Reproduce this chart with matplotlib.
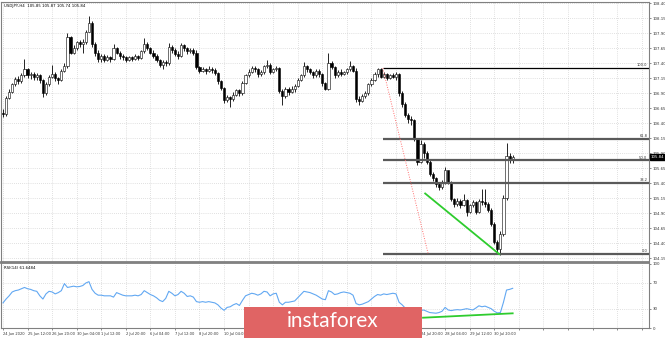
import matplotlib
matplotlib.use("Agg")
import matplotlib.pyplot as plt
import matplotlib.transforms as mtransforms
from matplotlib.patches import Rectangle

# USDJPY H4, 24 Jun 04:00 .. 31 Jul 20:00
first_open = 106.58
closes = [
    106.55, 106.82, 106.93, 107.05, 107.14, 107.10, 107.20, 107.30, 107.20, 107.22,
    107.17, 107.20, 107.12, 106.90, 107.06, 107.18, 107.22, 107.15, 107.12, 107.28,
    107.36, 107.84, 107.58, 107.66, 107.75, 107.73, 107.76, 107.93, 108.08, 107.72,
    107.58, 107.47, 107.52, 107.45, 107.50, 107.48, 107.66, 107.58, 107.52, 107.50,
    107.46, 107.50, 107.48, 107.52, 107.49, 107.60, 107.72, 107.65, 107.58, 107.52,
    107.46, 107.38, 107.42, 107.40, 107.67, 107.62, 107.56, 107.52, 107.70, 107.66,
    107.60, 107.62, 107.58, 107.34, 107.28, 107.30, 107.27, 107.31, 107.29, 107.24,
    107.10, 106.99, 106.79, 106.84, 106.80, 106.88, 106.95, 106.90, 107.07, 107.20,
    107.26, 107.32, 107.30, 107.22, 107.25, 107.35, 107.38, 107.26, 107.30, 107.32,
    106.94, 106.85, 106.97, 106.93, 106.98, 107.02, 107.12, 107.20, 107.36, 107.30,
    107.26, 107.20, 107.28, 107.22, 107.07, 106.98, 107.40, 107.34, 107.20, 107.26,
    107.22, 107.25, 107.30, 107.36, 107.28, 106.80, 106.78, 106.86, 106.90, 107.05,
    107.12, 107.22, 107.30, 107.18, 107.22, 107.16, 107.20, 107.18, 107.22, 106.90,
    106.72, 106.54, 106.48, 106.45, 106.14, 105.75, 106.05, 105.90, 105.76, 105.55,
    105.48, 105.38, 105.34, 105.42, 105.62, 105.42, 105.14, 105.06, 105.10, 105.04,
    105.12, 104.92, 105.03, 105.08, 104.92, 105.10, 105.08, 105.05, 104.95, 104.72,
    104.42, 104.30, 104.55, 105.15, 105.85, 105.80, 105.84,
]
highs = [
    106.64, 106.86, 106.97, 107.08, 107.18, 107.19, 107.24, 107.47, 107.33, 107.26,
    107.25, 107.24, 107.22, 107.14, 107.09, 107.21, 107.37, 107.25, 107.18, 107.30,
    107.40, 107.90, 107.86, 107.70, 107.78, 107.79, 107.80, 107.96, 108.19, 108.10,
    107.75, 107.62, 107.56, 107.55, 107.54, 107.53, 107.72, 107.68, 107.60, 107.55,
    107.52, 107.53, 107.52, 107.56, 107.54, 107.63, 107.82, 107.75, 107.68, 107.62,
    107.55, 107.48, 107.45, 107.46, 107.74, 107.70, 107.66, 107.60, 107.74, 107.73,
    107.68, 107.66, 107.66, 107.62, 107.36, 107.34, 107.33, 107.35, 107.34, 107.32,
    107.26, 107.12, 107.01, 106.88, 106.86, 106.92, 106.98, 106.97, 107.10, 107.23,
    107.30, 107.35, 107.36, 107.32, 107.29, 107.38, 107.46, 107.40, 107.33, 107.36,
    107.34, 106.98, 107.00, 107.00, 107.02, 107.05, 107.15, 107.23, 107.42, 107.38,
    107.33, 107.28, 107.31, 107.30, 107.24, 107.09, 107.57, 107.44, 107.36, 107.29,
    107.30, 107.28, 107.33, 107.44, 107.38, 107.32, 106.85, 106.89, 106.94, 107.08,
    107.15, 107.26, 107.32, 107.32, 107.25, 107.24, 107.23, 107.24, 107.25, 107.24,
    106.94, 106.75, 106.58, 106.52, 106.47, 106.16, 106.12, 106.08, 105.94, 105.78,
    105.58, 105.50, 105.42, 105.45, 105.67, 105.60, 105.44, 105.16, 105.15, 105.14,
    105.22, 105.14, 105.06, 105.12, 105.10, 105.14, 105.30, 105.30, 105.08, 104.98,
    104.75, 104.45, 104.60, 105.20, 106.07, 105.90, 105.87,
]
lows = [
    106.50, 106.52, 106.80, 106.90, 107.02, 107.05, 107.08, 107.18, 107.16, 107.14,
    107.12, 107.12, 107.08, 106.84, 106.88, 107.03, 107.15, 107.10, 107.05, 107.10,
    107.25, 107.33, 107.55, 107.55, 107.63, 107.68, 107.58, 107.73, 107.92, 107.68,
    107.52, 107.42, 107.43, 107.42, 107.44, 107.43, 107.46, 107.55, 107.48, 107.46,
    107.42, 107.44, 107.44, 107.46, 107.45, 107.47, 107.58, 107.62, 107.55, 107.49,
    107.42, 107.34, 107.30, 107.36, 107.38, 107.58, 107.53, 107.48, 107.50, 107.60,
    107.55, 107.57, 107.54, 107.30, 107.24, 107.25, 107.22, 107.26, 107.24, 107.20,
    107.06, 106.95, 106.74, 106.76, 106.67, 106.78, 106.85, 106.86, 106.88, 107.05,
    107.17, 107.24, 107.26, 107.18, 107.19, 107.23, 107.32, 107.22, 107.24, 107.27,
    106.90, 106.70, 106.82, 106.88, 106.90, 106.93, 107.00, 107.10, 107.18, 107.26,
    107.22, 107.16, 107.18, 107.18, 107.03, 106.95, 106.96, 107.30, 107.16, 107.17,
    107.19, 107.20, 107.22, 107.28, 107.25, 106.76, 106.70, 106.75, 106.82, 106.88,
    107.02, 107.10, 107.18, 107.15, 107.15, 107.13, 107.14, 107.15, 107.12, 106.86,
    106.68, 106.50, 106.40, 106.38, 106.10, 105.70, 105.73, 105.82, 105.72, 105.52,
    105.44, 105.33, 105.28, 105.30, 105.38, 105.38, 105.10, 105.00, 105.02, 104.98,
    105.02, 104.86, 104.90, 105.00, 104.88, 104.90, 105.04, 105.00, 104.92, 104.68,
    104.38, 104.22, 104.20, 104.52, 105.12, 105.74, 105.74,
]
rsi = [
    39, 45, 50, 56, 58, 59, 61, 63, 61, 60,
    58, 57, 50, 45, 53, 57, 56, 53, 55, 58,
    69, 63, 64, 65, 64, 64.5, 66, 70, 72, 60,
    54, 51, 51, 50, 50, 50, 48, 55, 53, 51,
    50, 50, 50, 51, 50, 52, 58, 55, 52, 50,
    47, 43, 41, 46, 57, 54, 50, 52, 57, 54,
    49, 50, 48, 41, 40, 41, 40, 41, 40, 39,
    36, 31, 27.5, 32, 33, 36, 38, 35, 43, 50,
    52, 54, 53, 51, 53, 57, 56, 50, 53, 54,
    40, 36, 40, 40, 41, 42, 47, 52, 57, 56,
    55, 53, 51, 48, 45, 44, 58, 56, 52, 53,
    55, 56, 55, 54, 51, 38, 36, 37, 39, 41,
    45, 49, 52, 51, 53, 52, 53, 54, 53, 40,
    36, 31, 30, 29, 24, 19, 27, 28, 26, 24,
    23.5, 23, 24, 26, 32, 28, 27, 28, 28.5, 28,
    29, 30, 29, 28, 31, 34.5, 33, 34, 32, 30,
    26, 23.5, 24, 40, 59, 60, 61.65,
]

date_labels = ["24 Jun 2020", "25 Jun 12:00", "26 Jun 20:00", "30 Jun 04:00",
               "1 Jul 12:00", "2 Jul 20:00", "6 Jul 04:00", "7 Jul 12:00",
               "8 Jul 20:00", "10 Jul 04:00", "13 Jul 12:00", "14 Jul 20:00",
               "16 Jul 04:00", "17 Jul 12:00", "20 Jul 20:00", "22 Jul 04:00",
               "23 Jul 12:00", "24 Jul 20:00", "28 Jul 04:00", "29 Jul 12:00",
               "30 Jul 20:00"]
price_ticks = [104.15, 104.40, 104.65, 104.90, 105.15, 105.40, 105.65, 105.90,
               106.15, 106.40, 106.65, 106.90, 107.15, 107.40, 107.65, 107.90,
               108.15, 108.40]

fib_levels = [107.32, 106.14, 105.78, 105.40, 104.22]
fib_names = ["100.0", "61.8", "50.0", "38.2", "0.0"]
fib_start = 123.7
fib_red_x = [123.7, 138.5]
fib_red_y = [107.32, 104.22]
green_x = [137.5, 161.6]
green_y = [105.23, 104.22]
rsi_green_x = [136.8, 166.0]
rsi_green_y = [16.0, 22.8]
header = "USDJPY,H4  105.85 105.87 105.74 105.84"
last_price = 105.84

W, H = 665, 338
fig = plt.figure(figsize=(W / 100, H / 100), dpi=100)
fig.patch.set_facecolor("white")


def fx(px):
    return px / W


def fy(py):
    return 1 - py / H


ax = fig.add_axes([fx(1), fy(262), fx(649) - fx(1), fy(2) - fy(262)])
ar = fig.add_axes([fx(1), fy(328), fx(649) - fx(1), fy(263) - fy(328)])

x_lo, x_hi = -0.65, 210.4
grid_bars = list(range(0, 211, 8))
grid_style = dict(color="#c4c4c4", lw=0.5, ls=(0, (1, 2)), zorder=0)

# ---- price panel
n = len(closes)
opens = [first_open] + closes[:-1]
idx = list(range(n))
bottoms = [min(o, c) for o, c in zip(opens, closes)]
heights = [max(abs(c - o), 0.008) for o, c in zip(opens, closes)]
faces = ["white" if c >= o else "black" for o, c in zip(opens, closes)]

for b in grid_bars:
    ax.axvline(b, **grid_style)
for p in price_ticks:
    ax.axhline(p, **grid_style)

ax.vlines(idx, lows, highs, color="black", lw=0.6, zorder=2)
ax.bar(idx, heights, bottom=bottoms, width=0.7, color=faces,
       edgecolor="black", linewidth=0.4, zorder=3)

fib_colors = ["black", "#5a5a5a", "#5a5a5a", "#5a5a5a", "#5a5a5a"]
fib_widths = [0.9, 1.6, 1.6, 1.6, 1.6]
for lev, name, col, w in zip(fib_levels, fib_names, fib_colors, fib_widths):
    ax.hlines(lev, fib_start, x_hi, color=col, lw=w, zorder=4)
    ax.text(x_hi - 0.6, lev + 0.015, name, ha="right", va="bottom",
            fontsize=2.6, color="#333333", zorder=5)
ax.plot(fib_red_x, fib_red_y, color="#ff7070", lw=0.7, ls=(0, (1, 1.5)), zorder=4)
ax.plot(green_x, green_y, color="#2ecc2e", lw=1.3, zorder=5)

ax.set_xlim(x_lo, x_hi)
ax.set_ylim(104.088, 108.422)
ax.set_xticks(grid_bars)
ax.tick_params(axis="x", length=0, labelbottom=False)
ax.yaxis.tick_right()
ax.set_yticks(price_ticks)
ax.set_yticklabels([f"{p:.2f}" for p in price_ticks])
ax.tick_params(axis="y", labelsize=2.8, length=1.5, width=0.4, pad=1,
               colors="#333333")
for s in ax.spines.values():
    s.set_color("#808080")
    s.set_linewidth(0.8)
ax.spines["bottom"].set_linewidth(1.3)
ax.text(0.004, 0.992, header, transform=ax.transAxes, fontsize=2.8,
        va="top", ha="left", color="black")

tr = mtransforms.blended_transform_factory(ax.transAxes, ax.transData)
ax.text(1.003, last_price, f"{last_price:.2f}", transform=tr, fontsize=2.8,
        color="white", va="center", ha="left", zorder=6,
        bbox=dict(facecolor="black", edgecolor="black", pad=0.6))

# ---- RSI panel
for b in grid_bars:
    ar.axvline(b, **grid_style)
for lev in (30, 70):
    ar.axhline(lev, **grid_style)
ar.plot(idx, rsi, color="#62a8f2", lw=0.8, zorder=3)
ar.plot(rsi_green_x, rsi_green_y, color="#2ecc2e", lw=1.3, zorder=4)
ar.set_xlim(x_lo, x_hi)
ar.set_ylim(0, 101)
ar.yaxis.tick_right()
ar.set_yticks([0, 30, 70, 100])
ar.set_yticklabels(["0", "30", "70", "100"])
ar.tick_params(axis="y", labelsize=2.8, length=1.5, width=0.4, pad=1,
               colors="#333333")
ar.set_xticks(grid_bars)
ar.set_xticklabels(date_labels + [""] * (len(grid_bars) - len(date_labels)))
for lab in ar.get_xticklabels():
    lab.set_horizontalalignment("left")
ar.tick_params(axis="x", labelsize=2.6, length=1.5, width=0.4, pad=1.5,
               colors="#333333")
for s in ar.spines.values():
    s.set_color("#808080")
    s.set_linewidth(0.8)
ar.spines["top"].set_linewidth(1.3)
ar.text(0.004, 0.95, "RSI(14) 61.6484", transform=ar.transAxes, fontsize=2.8,
        va="top", ha="left", color="black")

# ---- watermark
fig.add_artist(Rectangle((fx(244), 0), fx(422) - fx(244), 31 / H,
                         transform=fig.transFigure, facecolor="#e06464",
                         edgecolor="none", zorder=10))
fig.text(fx(333), fy(321), "instaforex", color="white", fontsize=15,
         ha="center", va="center", family=["Lato", "DejaVu Sans"],
         weight="normal", zorder=11)

fig.savefig("out.png", dpi=100)
